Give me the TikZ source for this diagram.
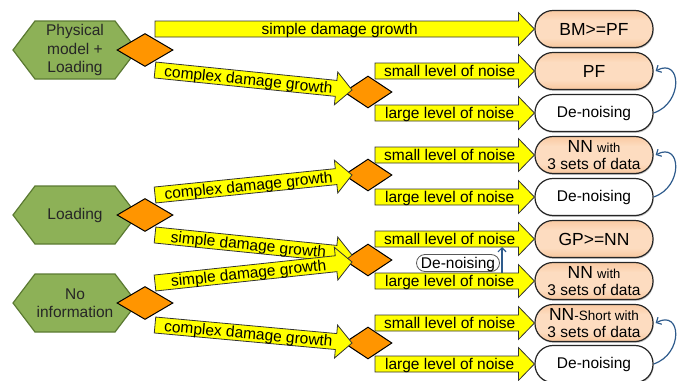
\documentclass[tikz,border=0pt]{standalone}
\usepackage{fontspec}
\setmainfont{Liberation Sans}
\usetikzlibrary{calc,shapes.geometric,arrows.meta,shadows}

\definecolor{hexfill}{HTML}{8DB157}
\definecolor{hexline}{HTML}{5B7A32}
\definecolor{diafill}{HTML}{FF9500}
\definecolor{yel}{HTML}{FFFF00}
\definecolor{btop}{HTML}{F4A768}
\definecolor{bmid}{HTML}{FDDCC0}
\definecolor{bbot}{HTML}{EF9E5A}
\definecolor{curv}{HTML}{2E5B8C}

\pgfdeclareverticalshading{boxshade}{100bp}{color(0bp)=(bbot); color(38bp)=(bmid); color(50bp)=(bmid); color(62bp)=(bmid); color(100bp)=(btop)}

\newcommand\fsn{\fontsize{15.5}{18.5}\selectfont}
\newcommand\fbig{\fontsize{17.5}{17.5}\selectfont}
\newcommand\fsm{\fontsize{13}{13}\selectfont}

\tikzset{
  hexdraw/.style={draw=hexline, line width=1.2pt, fill=hexfill, line join=miter},
  hexnode/.style={inner sep=0pt, align=center, font=\fsn, text=black!85},
  dianode/.style={diamond, draw=black, line width=1pt, fill=diafill, minimum width=56pt, minimum height=33pt, inner sep=0pt},
  dianodeb/.style={dianode, minimum width=48pt, minimum height=32pt},
  yarrow/.style={draw=black!80, line width=0.8pt, fill=yel, line join=miter},
  atext/.style={font=\fsn, inner sep=0pt, text height=11pt, text depth=0pt, text=black},
  resbox/.style={draw=black!85, line width=1.2pt, rounded corners=18pt, minimum width=118pt, minimum height=37pt, inner sep=0pt, align=center, font=\fsn,
    drop shadow={shadow xshift=0.6pt, shadow yshift=-1.4pt, opacity=0.45}},
  resorange/.style={resbox, shading=boxshade},
  reswhite/.style={resbox, fill=white},
  curvarrow/.style={draw=curv, line width=1.2pt, -{Straight Barb[length=4pt,width=8pt]}},
  smalloval/.style={draw=black!65, line width=0.8pt, fill=white, rounded corners=8.5pt, minimum width=83pt, minimum height=17pt, inner sep=0pt, font=\fsn, text height=11pt, text depth=0pt},
}

% block arrow: start, tip, text, name
\newcommand\barrow[4]{%
  \path (#1); \pgfgetlastxy{\bax}{\bay}%
  \path (#2); \pgfgetlastxy{\bbx}{\bby}%
  \pgfmathsetmacro\bang{atan2(\bby-\bay,\bbx-\bax)}%
  \pgfmathsetmacro\blen{veclen(\bbx-\bax,\bby-\bay)}%
  \pgfmathsetmacro\bneck{\blen-16}%
  \pgfmathsetmacro\bmid{(\blen-16)/2+3}%
  \begin{scope}[shift={(#1)},rotate=\bang]
    \draw[yarrow] (0pt,-8pt) -- (\bneck pt,-8pt) -- (\bneck pt,-16.5pt) -- (\blen pt,0pt)
      -- (\bneck pt,16.5pt) -- (\bneck pt,8pt) -- (0pt,8pt) -- cycle;
    \node[atext, rotate=\bang] (#4) at (\bmid pt,0pt) {#3};
  \end{scope}}

% hexagon: name, position, text
\newcommand\hexa[3]{%
  \draw[hexdraw] ($(#2)+(-62,0)$) -- ($(#2)+(-40,-29)$) -- ($(#2)+(40,-29)$) -- ($(#2)+(62,0)$)
     -- ($(#2)+(40,29)$) -- ($(#2)+(-40,29)$) -- cycle;
  \node[hexnode] (#1) at (#2) {#3};}

\begin{document}
\begin{tikzpicture}[x=1pt,y=-1pt]
\useasboundingbox (0,0) rectangle (679,380);

% hexagons
\hexa{h1}{75,50}{Physical\\model +\\Loading}
\hexa{h2}{75,215}{Loading}
\hexa{h3}{75,303}{No\\information}

% first-level diamonds
\node[dianode] (d1) at (145,50) {};
\node[dianode] (d2) at (145,215) {};
\node[dianode] (d3) at (145,303) {};

% second-level diamonds
\node[dianodeb] (d4) at (368,92) {};
\node[dianodeb] (d5) at (368,175) {};
\node[dianodeb] (d6) at (368,260) {};
\node[dianodeb] (d7) at (368,343) {};

% result boxes
\node[resorange] (r0) at (594,29) {\fbig BM>=PF};
\node[resorange] (r1) at (594,71) {\fbig PF};
\node[reswhite]  (r2) at (594,113) {De-noising};
\node[resorange, font=\fontsize{15.5}{16.5}\selectfont] (r3) at (594,155) {{\fbig NN} {\fsm with}\\3 sets of data};
\node[reswhite]  (r4) at (594,197) {De-noising};
\node[resorange] (r5) at (594,239) {\fbig GP>=NN};
\node[resorange, font=\fontsize{15.5}{16.5}\selectfont] (r6) at (594,281) {{\fbig NN} {\fsm with}\\3 sets of data};
\node[resorange, font=\fontsize{15.5}{16.5}\selectfont] (r7) at (594,323) {{\fbig NN}{\fontsize{13.5}{13.5}\selectfont -Short with}\\3 sets of data};
\node[reswhite]  (r8) at (594,364) {De-noising};

% coordinates for arrow ends
\coordinate (s0) at (155,29);
\coordinate (s1) at (155,70);  \coordinate (t1) at (352,90);
\coordinate (s2) at (155,195); \coordinate (t2) at (352,175);
\coordinate (s3) at (155,235); \coordinate (t3) at (352,255);
\coordinate (s4) at (155,283); \coordinate (t4) at (352,262);
\coordinate (s5) at (155,325); \coordinate (t5) at (352,343);
\foreach \i/\y in {1/71,2/113,3/155,4/197,5/239,6/281,7/323,8/364}{
  \coordinate (u\i) at (375,\y);
}

% first-level block arrows
\barrow{s0}{r0.west}{simple damage growth}{a0}
\barrow{s1}{t1}{complex damage growth}{a1}
\barrow{s2}{t2}{complex damage growth}{a2}
\barrow{s3}{t3}{simple damage growth}{a3}
\barrow{s4}{t4}{simple damage growth}{a4}
\barrow{s5}{t5}{complex damage growth}{a5}

% second-level block arrows
\barrow{u1}{r1.west}{small level of noise}{b1}
\barrow{u2}{r2.west}{large level of noise}{b2}
\barrow{u3}{r3.west}{small level of noise}{b3}
\barrow{u4}{r4.west}{large level of noise}{b4}
\barrow{u5}{r5.west}{small level of noise}{b5}
\barrow{u6}{r6.west}{large level of noise}{b6}
\barrow{u7}{r7.west}{small level of noise}{b7}
\barrow{u8}{r8.west}{large level of noise}{b8}

% curved de-noising arrows
\draw[curvarrow] (r2.east) .. controls +(30,-10) and +(26,-14) .. ($(r1.east)+(2,0)$);
\draw[curvarrow] (r4.east) .. controls +(30,-10) and +(26,-14) .. ($(r3.east)+(2,0)$);
\draw[curvarrow] (r8.east) .. controls +(30,-10) and +(26,-14) .. ($(r7.east)+(2,0)$);

% middle de-noising
\node[smalloval] (dn) at (458,263) {De-noising};
\coordinate (v0) at (502,273);
\coordinate (v1) at (502,247);
\draw[curvarrow] (v0) -- (v1);
\end{tikzpicture}
\end{document}
